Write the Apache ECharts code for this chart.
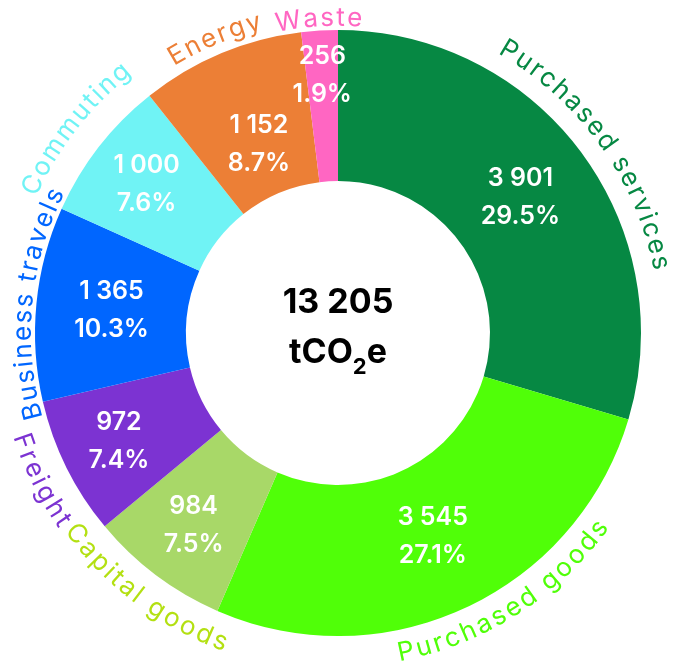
<!DOCTYPE html>
<html>
<head>
<meta charset="utf-8">
<script src="https://cdn.jsdelivr.net/npm/echarts@6/dist/echarts.min.js"></script>
<style>
  html, body { margin: 0; padding: 0; background: #ffffff; }
  #chart { width: 675px; height: 669px; }
</style>
</head>
<body>
<div id="chart"></div>
<script>
// Emission categories, clockwise from 12 o'clock
const categories = ['Purchased services', 'Purchased goods', 'Capital goods', 'Freight',
                    'Business travels', 'Commuting', 'Energy', 'Waste'];
const emissions = [3901, 3545, 984, 972, 1365, 1000, 1152, 256];
const shares = ['29.5%', '27.1%', '7.5%', '7.4%', '10.3%', '7.6%', '8.7%', '1.9%'];
const totalLabel = '13 205';

const sliceColors = ['#068843', '#50FF08', '#A8D868', '#7C33D2', '#0066FF', '#70F3F5', '#EC7F36', '#FF66C2'];
const nameColors  = ['#068843', '#50FF08', '#B3E012', '#7C33D2', '#0066FF', '#70F3F5', '#EC7F36', '#FF66C2'];

// Layout tweaks: radial nudge (px) of the value labels,
// angular nudge (deg) and distance from the ring (px) of the names
const valueLabelNudge = [0, -3, 13, 17, 0, 15, -23, 30];
const nameNudgeDeg = [1, -7.5, 0, 0, 0, 0, 0, 0];
const nameGap = [27, 23, 27, 30, 12, 36, 18, 12];

const FONT = 'Inter, "Noto Sans", sans-serif';
const NAME_SIZE = 26;
const NAME_WEIGHT = 400;
const NAME_SPACING = 2.4;

function groupThousands(v) {
  return String(v).replace(/\B(?=(\d{3})+(?!\d))/g, ' ');
}

const chart = echarts.init(document.getElementById('chart'), null, { renderer: 'canvas' });

function sliceLayout(i) {
  const s = chart.getModel() && chart.getModel().getSeriesByIndex(0);
  return s ? s.getData().getItemLayout(i) : null;
}

chart.setOption({
  animation: false,
  backgroundColor: '#ffffff',
  series: [{
    type: 'pie',
    center: [338, 333],
    radius: [152, 303],
    startAngle: 90,
    clockwise: true,
    silent: true,
    itemStyle: { borderWidth: 0 },
    label: {
      show: true,
      position: 'inside',
      color: '#ffffff',
      fontFamily: FONT,
      fontSize: 25,
      fontWeight: 600,
      lineHeight: 38,
      align: 'center',
      verticalAlign: 'middle',
      formatter: p => groupThousands(p.value) + '\n' + shares[p.dataIndex]
    },
    // place each value label on the slice's mid-angle, at a per-slice radius
    labelLayout: function (params) {
      const lay = sliceLayout(params.dataIndex);
      if (!lay) return {};
      const mid = (lay.startAngle + lay.endAngle) / 2;
      const rr = (lay.r + lay.r0) / 2 + valueLabelNudge[params.dataIndex];
      return {
        x: lay.cx + rr * Math.cos(mid),
        y: lay.cy + rr * Math.sin(mid),
        align: 'center',
        verticalAlign: 'middle'
      };
    },
    labelLine: { show: false },
    data: categories.map((name, i) => ({
      name,
      value: emissions[i],
      itemStyle: { color: sliceColors[i] }
    }))
  }]
});

// Category names bent along the outside of the ring, one glyph at a time
const measureCtx = document.createElement('canvas').getContext('2d');
const nameFont = NAME_WEIGHT + ' ' + NAME_SIZE + 'px ' + FONT;
measureCtx.font = nameFont;

const graphics = [];

categories.forEach((name, i) => {
  const lay = sliceLayout(i);
  const cx = lay.cx, cy = lay.cy;
  const rm = lay.r + nameGap[i];
  const mid = (lay.startAngle + lay.endAngle) / 2 + nameNudgeDeg[i] * Math.PI / 180;
  const flipped = Math.sin(mid) > 0;
  const chars = Array.from(name);
  const widths = chars.map(c => measureCtx.measureText(c).width);
  const total = widths.reduce((s, w) => s + w, 0) + NAME_SPACING * (chars.length - 1);
  const dir = flipped ? -1 : 1;
  const a0 = mid - dir * total / (2 * rm);
  let run = 0;
  chars.forEach((c, k) => {
    const a = a0 + dir * (run + widths[k] / 2) / rm;
    run += widths[k] + NAME_SPACING;
    if (c === ' ') return;
    graphics.push({
      type: 'text',
      x: cx + rm * Math.cos(a),
      y: cy + rm * Math.sin(a),
      rotation: flipped ? Math.PI / 2 - a : -(a + Math.PI / 2),
      silent: true,
      style: {
        text: c,
        font: nameFont,
        fill: nameColors[i],
        align: 'center',
        verticalAlign: 'middle',
        textAlign: 'center',
        textVerticalAlign: 'middle'
      }
    });
  });
});

// Total in the hole
graphics.push({
  type: 'text',
  x: 338, y: 328,
  silent: true,
  style: {
    text: '{n|' + totalLabel + '}\n{u|tCO}{s|2}{u|e}',
    align: 'center',
    verticalAlign: 'middle',
    textAlign: 'center',
    textVerticalAlign: 'middle',
    fill: '#000000',
    rich: {
      n: { fontFamily: FONT, fontSize: 34, fontWeight: 700, lineHeight: 50, fill: '#000', color: '#000' },
      u: { fontFamily: FONT, fontSize: 34, fontWeight: 700, lineHeight: 50, fill: '#000', color: '#000' },
      s: { fontFamily: FONT, fontSize: 22, fontWeight: 700, lineHeight: 50, fill: '#000', color: '#000', verticalAlign: 'bottom', padding: [16, 0, 0, 0] }
    }
  }
});

chart.setOption({ graphic: { elements: graphics } });
</script>
</body>
</html>
